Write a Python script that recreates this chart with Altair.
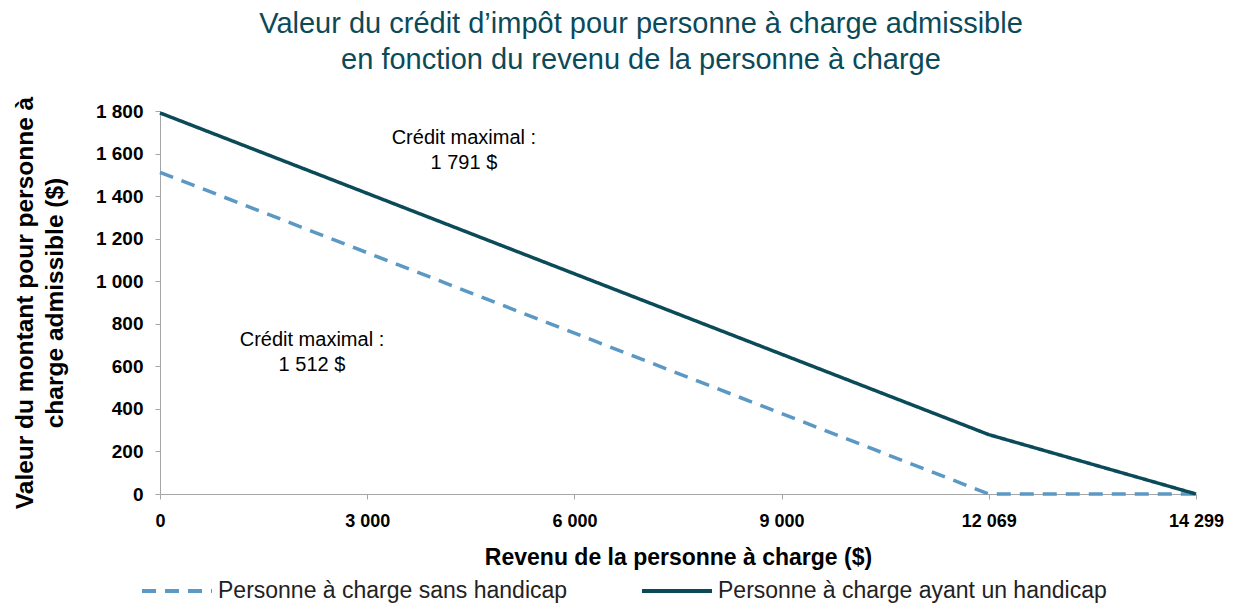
import altair as alt
import pandas as pd

# ---- data ----
revenus = [0, 12069, 14299]
sans_handicap = [1512, 0, 0]
avec_handicap = [1791, 279, 0]
series_names = ["Personne à charge sans handicap", "Personne à charge ayant un handicap"]
x_ticks = [0, 3000, 6000, 9000, 12069, 14299]
y_ticks = [0, 200, 400, 600, 800, 1000, 1200, 1400, 1600, 1800]

ann_x = [4400, 2200]
ann_y = [1672, 722]
ann_text = ["Crédit maximal :\n1 791 $", "Crédit maximal :\n1 512 $"]

rows = []
for i, r in enumerate(revenus):
    rows.append({"revenu": r, "valeur": sans_handicap[i], "serie": series_names[0], "ordre": i})
for i, r in enumerate(revenus):
    rows.append({"revenu": r, "valeur": avec_handicap[i], "serie": series_names[1], "ordre": i})
df = pd.DataFrame(rows)
ann = pd.DataFrame({"revenu": ann_x, "valeur": ann_y, "texte": ann_text})

W, H = 1036, 383
PAD_L, PAD_T = 152, 103
SVG_W, SVG_H = 1218, 597
FONT = "Liberation Sans"
TEAL = "#0B4A58"
BLUE = "#5B98C3"
GRAY = "#A6A6A6"
fmt = "replace(format(datum.value, ','), ',', ' ')"

xscale = alt.Scale(domain=x_ticks, range=[W * i / 5 for i in range(6)], nice=False, zero=False)
yscale = alt.Scale(domain=[0, 1800], nice=False)

xaxis = alt.Axis(values=x_ticks, labelExpr=fmt, title="Revenu de la personne à charge ($)",
                 titleFontSize=23, titleFont=FONT, titleFontWeight="bold", titleColor="black",
                 titlePadding=16, labelFontSize=18, labelFont=FONT, labelFontWeight="bold",
                 labelColor="black", labelPadding=13, tickSize=5, grid=False,
                 domainColor=GRAY, tickColor=GRAY, labelFlush=False)
yaxis = alt.Axis(values=y_ticks, labelExpr=fmt,
                 title=["Valeur du montant pour personne à", "charge admissible ($)"],
                 titleFontSize=24.5, titleFont=FONT, titleFontWeight="bold", titleColor="black",
                 titleLineHeight=30, titlePadding=28, labelFontSize=19, labelFont=FONT,
                 labelFontWeight="bold", labelColor="black", labelPadding=12, tickSize=5,
                 grid=False, domainColor=GRAY, tickColor=GRAY)

legend = alt.Legend(orient="none", legendX=-20, legendY=443, direction="horizontal",
                    title=None, symbolType="stroke", symbolSize=4900, symbolStrokeWidth=4,
                    labelFontSize=23, labelFont=FONT, labelColor="#222222",
                    columnPadding=66, labelOffset=4, labelLimit=600, padding=0)

lines = alt.Chart(df).mark_line(strokeWidth=3.5).encode(
    x=alt.X("revenu:Q", scale=xscale, axis=xaxis),
    y=alt.Y("valeur:Q", scale=yscale, axis=yaxis),
    color=alt.Color("serie:N", scale=alt.Scale(domain=series_names, range=[BLUE, TEAL]), legend=legend),
    strokeDash=alt.StrokeDash("serie:N", scale=alt.Scale(domain=series_names, range=[[14, 9], [1, 0]]), legend=legend),
    order="ordre:Q",
)

texts = alt.Chart(ann).mark_text(lineBreak="\n", fontSize=20, font=FONT, color="black",
                                 lineHeight=25, align="center", baseline="middle").encode(
    x=alt.X("revenu:Q", scale=xscale),
    y=alt.Y("valeur:Q", scale=yscale),
    text="texte:N",
)

chart = alt.layer(lines, texts).properties(
    width=W, height=H,
    autosize=alt.AutoSizeParams(type="none"),
    padding={"left": PAD_L, "top": PAD_T, "right": SVG_W - PAD_L - W, "bottom": SVG_H - PAD_T - H},
    title=alt.TitleParams(
        text=["Valeur du crédit d’impôt pour personne à charge admissible",
              "en fonction du revenu de la personne à charge"],
        fontSize=29, font=FONT, fontWeight="normal", color=TEAL, anchor="middle",
        lineHeight=36, offset=21, dx=-37),
).configure(background="white").configure_view(stroke=None)

chart.save("out.html", embed_options={"renderer": "svg", "actions": False})
